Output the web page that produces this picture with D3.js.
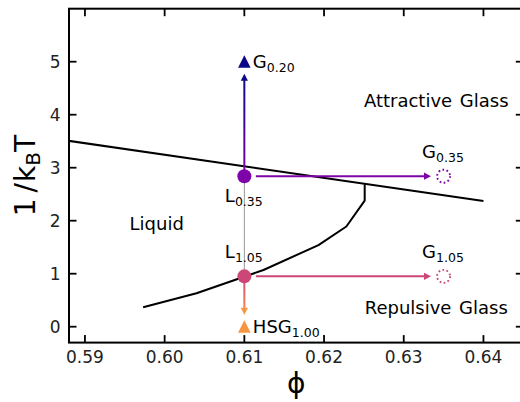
<!DOCTYPE html>
<html><head><meta charset="utf-8">
<script src="https://cdn.jsdelivr.net/npm/d3@7"></script>
<style>body{margin:0;background:#fff}svg{display:block;font-family:"DejaVu Sans",sans-serif}</style>
</head><body><svg id="c" width="520" height="402"></svg>
<script>
// ---- data ----
const xTicks = [0.59, 0.60, 0.61, 0.62, 0.63, 0.64];
const yTicks = [0, 1, 2, 3, 4, 5];
const attrPhi = [0.586, 0.640];
const attrBeta = [3.55, 2.37];
const repPhi = [0.5973, 0.6040, 0.6124, 0.6193, 0.6228, 0.6251, 0.6251];
const repBeta = [0.366, 0.63, 1.07, 1.54, 1.89, 2.38, 2.69];
const liquidNames = ["0.35", "1.05"];
const liquidPhi = [0.61, 0.61];
const liquidBeta = [2.84, 0.95];
const liquidColors = ["#7e03a8", "#cc4778"];
const glassPhi = [0.635, 0.635];      // dotted-circle targets (same beta as liquids)
const triNames = ["G", "HSG"];
const triSubs = ["0.20", "1.00"];
const triPhi = [0.61, 0.61];
const triBeta = [5.0, 0.0];
const triColors = ["#0d0887", "#f89540"];
const regionNames = ["Liquid", "Attractive Glass", "Repulsive Glass"];
const regionPhi = [0.5956, 0.6250, 0.6251];
const regionBeta = [1.82, 4.14, 0.24];

const svg = d3.select("#c");
const x = d3.scaleLinear().domain([0.588, 0.645]).range([69, 523.3]);
const y = d3.scaleLinear().domain([-0.3, 6.0]).range([342.6, 8.7]);
const X0 = x.range()[0], X1 = x.range()[1], Y0 = y.range()[0], Y1 = y.range()[1];

const defs = svg.append("defs");
defs.append("clipPath").attr("id","clip").append("rect")
  .attr("x",X0).attr("y",Y1).attr("width",X1-X0).attr("height",Y0-Y1);
function grad(id, c1, c2, yA, yB){
  const g = defs.append("linearGradient").attr("id",id)
    .attr("gradientUnits","userSpaceOnUse").attr("x1",0).attr("x2",0).attr("y1",yA).attr("y2",yB);
  g.append("stop").attr("offset",0).attr("stop-color",c1);
  g.append("stop").attr("offset",1).attr("stop-color",c2);
}
const plot = svg.append("g").attr("clip-path","url(#clip)");

// boundary lines
const line = d3.line().x(d=>x(d[0])).y(d=>y(d[1]));
plot.append("path").datum(attrPhi.map((p,i)=>[p,attrBeta[i]]))
  .attr("d",line).attr("fill","none").attr("stroke","#000").attr("stroke-width",2);
plot.append("path").datum(repPhi.map((p,i)=>[p,repBeta[i]]))
  .attr("d",line).attr("fill","none").attr("stroke","#000").attr("stroke-width",2).attr("stroke-linejoin","round");

// grey connector
plot.append("line").attr("x1",x(liquidPhi[0])).attr("x2",x(liquidPhi[1]))
  .attr("y1",y(liquidBeta[0])).attr("y2",y(liquidBeta[1])).attr("stroke","#999").attr("stroke-width",1);

function arrowHead(g, tx, ty, dir, color){
  const L = 7, W = 3.6;
  let pts;
  if(dir==="up") pts=[[tx,ty],[tx-W,ty+L],[tx+W,ty+L]];
  else if(dir==="down") pts=[[tx,ty],[tx-W,ty-L],[tx+W,ty-L]];
  else pts=[[tx,ty],[tx-L,ty-W],[tx-L,ty+W]];
  g.append("path").attr("d","M"+pts.map(p=>p.join(",")).join("L")+"Z").attr("fill",color);
}

// vertical arrows
const vx = x(0.61);
const upStart = y(liquidBeta[0]), upTip = y(triBeta[0]) + 12;
grad("gUp", triColors[0], liquidColors[0], upTip, upStart);
plot.append("line").attr("x1",vx).attr("x2",vx).attr("y1",upStart-6).attr("y2",upTip+5)
  .attr("stroke","url(#gUp)").attr("stroke-width",2);
arrowHead(plot, vx, upTip, "up", triColors[0]);

const dnStart = y(liquidBeta[1]), dnTip = y(triBeta[1]) - 12;
grad("gDn", liquidColors[1], triColors[1], dnStart, dnTip);
plot.append("line").attr("x1",vx).attr("x2",vx).attr("y1",dnStart+6).attr("y2",dnTip-5)
  .attr("stroke","url(#gDn)").attr("stroke-width",2);
arrowHead(plot, vx, dnTip, "down", triColors[1]);

// horizontal arrows and dotted targets
liquidBeta.forEach((b,i)=>{
  const yy = y(b), xs = x(liquidPhi[i]) + 11.5, xt = x(glassPhi[i]) - 12.6;
  plot.append("line").attr("x1",xs).attr("x2",xt-5).attr("y1",yy).attr("y2",yy)
    .attr("stroke",liquidColors[i]).attr("stroke-width",2);
  arrowHead(plot, xt, yy, "right", liquidColors[i]);
  plot.append("circle").attr("cx",x(glassPhi[i])).attr("cy",yy).attr("r",6.5)
    .attr("fill","none").attr("stroke",liquidColors[i]).attr("stroke-width",1.9)
    .attr("stroke-dasharray","1.7,2.4");
});

// liquid points
plot.selectAll("circle.liq").data(liquidBeta).join("circle").attr("class","liq")
  .attr("cx",(d,i)=>x(liquidPhi[i])).attr("cy",d=>y(d)).attr("r",7)
  .attr("fill",(d,i)=>liquidColors[i]);

// triangles
plot.selectAll("path.tri").data(triBeta).join("path").attr("class","tri")
  .attr("transform",(d,i)=>`translate(${x(triPhi[i])},${y(d)})`)
  .attr("d","M0,-6.5L6.3,6L-6.3,6Z").attr("fill",(d,i)=>triColors[i]);

// labels
function subLabel(px, py, main, sub){
  const t = svg.append("text").attr("x",px).attr("y",py).attr("font-size",18).attr("fill","#000");
  t.append("tspan").text(main);
  t.append("tspan").attr("font-size",12.5).attr("dy",4).text(sub);
}
subLabel(x(triPhi[0])+8.5, y(triBeta[0])+6, triNames[0], triSubs[0]);
subLabel(x(triPhi[1])+8.5, y(triBeta[1])+6, triNames[1], triSubs[1]);
subLabel(x(liquidPhi[0])-19.5, y(liquidBeta[0])+25.5, "L", liquidNames[0]);
subLabel(x(liquidPhi[1])-19.5, y(liquidBeta[1])-18.5, "L", liquidNames[1]);
subLabel(x(glassPhi[0])-21.5, y(liquidBeta[0])-18.5, "G", liquidNames[0]);
subLabel(x(glassPhi[1])-21.5, y(liquidBeta[1])-18, "G", liquidNames[1]);
regionNames.forEach((r,i)=>{
  svg.append("text").attr("x",x(regionPhi[i])).attr("y",y(regionBeta[i])).attr("font-size",18)
    .attr("word-spacing",2).text(r);
});

// axes: spines
svg.append("rect").attr("x",X0).attr("y",Y1).attr("width",X1-X0).attr("height",Y0-Y1)
  .attr("fill","none").attr("stroke","#000").attr("stroke-width",2);
const TL = 7.5;
xTicks.forEach(t=>{
  svg.append("line").attr("x1",x(t)).attr("x2",x(t)).attr("y1",Y0).attr("y2",Y0-TL).attr("stroke","#000").attr("stroke-width",1.8);
  svg.append("line").attr("x1",x(t)).attr("x2",x(t)).attr("y1",Y1).attr("y2",Y1+TL).attr("stroke","#000").attr("stroke-width",1.8);
  svg.append("text").attr("x",x(t)).attr("y",Y0+20.4).attr("text-anchor","middle").attr("font-size",17)
    .attr("fill","#222").text(d3.format(".2f")(t));
});
yTicks.forEach(t=>{
  svg.append("line").attr("x1",X0).attr("x2",X0+TL).attr("y1",y(t)).attr("y2",y(t)).attr("stroke","#000").attr("stroke-width",1.8);
  svg.append("line").attr("x1",X1).attr("x2",X1-TL).attr("y1",y(t)).attr("y2",y(t)).attr("stroke","#000").attr("stroke-width",1.8);
  svg.append("text").attr("x",X0-8.5).attr("y",y(t)+6).attr("text-anchor","end").attr("font-size",17)
    .attr("fill","#222").text(t);
});
svg.append("text").attr("x",(X0+X1)/2).attr("y",393).attr("text-anchor","middle").attr("font-size",28).text("ϕ");
const yl = svg.append("text").attr("transform",`translate(35,${(Y0+Y1)/2}) rotate(-90)`)
  .attr("text-anchor","middle").attr("font-size",28);
yl.append("tspan").text("1");
yl.append("tspan").attr("dx",6).text("/");
yl.append("tspan").attr("dx",1).text("k");
yl.append("tspan").attr("font-size",20).attr("dy",5).text("B");
yl.append("tspan").attr("dy",-5).text("T");
</script></body></html>
